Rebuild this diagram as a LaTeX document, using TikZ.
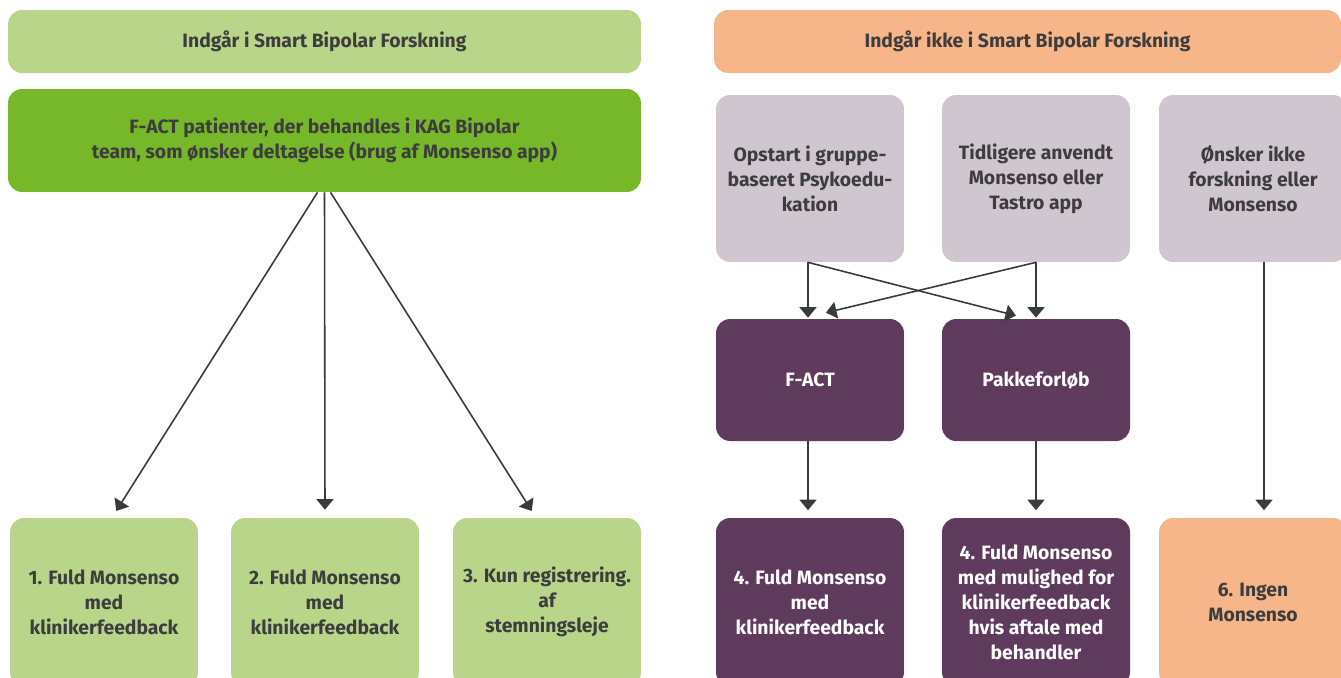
\documentclass[tikz,border=0pt]{standalone}
\usepackage{fontspec}
\setmainfont{Fira Sans}
\usetikzlibrary{arrows.meta}
\definecolor{lightgreen}{HTML}{B8D58A}
\definecolor{darkgreen}{HTML}{77B82A}
\definecolor{peach}{HTML}{F6B68A}
\definecolor{lilac}{HTML}{D0C6D0}
\definecolor{plum}{HTML}{5E3A5C}
\definecolor{txtgray}{HTML}{3D3D3D}
\definecolor{arrgray}{HTML}{3A3A3A}

\begin{document}
\begin{tikzpicture}[x=0.02cm,y=-0.02cm,
    box/.style={rounded corners=0.28cm, inner sep=0pt, align=center,
      font=\bfseries\fontsize{11}{14.2}\selectfont, text=txtgray},
    arr/.style={-{Triangle[width=0.34cm,length=0.21cm]}, line width=0.9pt, draw=arrgray}]
  \useasboundingbox (0,0) rectangle (1341,677);
  \clip (0,0) rectangle (1341,677);
  % left side: in the research project
  \node[box, fill=lightgreen, minimum width=12.66cm, minimum height=1.26cm] (hdrL) at (324.5,41.5)
    {Indgår i Smart Bipolar Forskning};
  \node[box, fill=darkgreen, minimum width=12.66cm, minimum height=2.06cm] (green) at (324.5,140.5)
    {F-ACT patienter, der behandles i KAG Bipolar\\team, som ønsker deltagelse (brug af Monsenso app)};
  \node[box, fill=lightgreen, minimum width=3.76cm, minimum height=3.36cm] (b1) at (104,602)
    {1. Fuld Monsenso\\med\\klinikerfeedback};
  \node[box, fill=lightgreen, minimum width=3.76cm, minimum height=3.36cm] (b2) at (325,602)
    {2. Fuld Monsenso\\med\\klinikerfeedback};
  \node[box, fill=lightgreen, minimum width=3.76cm, minimum height=3.36cm] (b3) at (547,602)
    {3. Kun registrering.\\af\\stemningsleje};
  \coordinate (s1) at ([xshift=-0.14cm]green.south);
  \coordinate (s3) at ([xshift=0.12cm]green.south);
  \coordinate (e1) at ([xshift=0.16cm]b1.north);
  \coordinate (e3) at ([xshift=-0.22cm]b3.north);
  \draw[arr, shorten >=0.16cm] (s1) -- (e1);
  \draw[arr, shorten >=0.16cm] (green.south) -- (b2.north);
  \draw[arr, shorten >=0.16cm] (s3) -- (e3);
  % right side: not in the research project
  \node[box, fill=peach, minimum width=12.54cm, minimum height=1.26cm] (hdrR) at (1027.5,41.5)
    {Indgår ikke i Smart Bipolar Forskning};
  \node[box, fill=lilac, minimum width=3.76cm, minimum height=3.34cm] (g1) at (810,178.5)
    {Opstart i gruppe-\\baseret Psykoedu-\\kation};
  \node[box, fill=lilac, minimum width=3.76cm, minimum height=3.34cm] (g2) at (1036,178.5)
    {Tidligere anvendt\\Monsenso eller\\Tastro app};
  \node[box, fill=lilac, minimum width=3.76cm, minimum height=3.34cm] (g3) at (1253,178.5)
    {Ønsker ikke\\forskning eller\\Monsenso};
  \node[box, fill=plum, text=white, minimum width=3.76cm, minimum height=2.44cm] (p1) at (810,380)
    {F-ACT};
  \node[box, fill=plum, text=white, minimum width=3.76cm, minimum height=2.44cm] (p2) at (1036,380)
    {Pakkeforløb};
  \node[box, fill=plum, text=white, minimum width=3.76cm, minimum height=3.36cm] (b4) at (810,602)
    {4. Fuld Monsenso\\med\\klinikerfeedback};
  \node[box, fill=plum, text=white, minimum width=3.76cm, minimum height=3.36cm] (b5) at (1036,602)
    {4. Fuld Monsenso\\med mulighed for\\klinikerfeedback\\hvis aftale med\\behandler};
  \node[box, fill=peach, minimum width=3.76cm, minimum height=3.36cm] (b6) at (1253,602)
    {6. Ingen\\Monsenso};
  \coordinate (g1s) at ([xshift=-0.04cm]g1.south);
  \coordinate (x1) at ([xshift=0.32cm,yshift=0.12cm]p1.north);
  \coordinate (x2) at ([xshift=-0.4cm,yshift=0.06cm]p2.north);
  \coordinate (g3s) at ([xshift=0.22cm]g3.south);
  \coordinate (e6) at ([xshift=0.22cm]b6.north);
  \draw[arr, shorten >=0.02cm] (g1s) -- (g1s |- p1.north);
  \draw[arr, shorten >=0.02cm] (g2.south) -- (p2.north);
  \draw[arr] (g1s) -- (x2);
  \draw[arr] (g2.south) -- (x1);
  \draw[arr, shorten >=0.15cm] ([xshift=-0.04cm]p1.south) -- ([xshift=-0.04cm]b4.north);
  \draw[arr, shorten >=0.15cm] (p2.south) -- (b5.north);
  \draw[arr, shorten >=0.15cm] (g3s) -- (e6);
\end{tikzpicture}
\end{document}
